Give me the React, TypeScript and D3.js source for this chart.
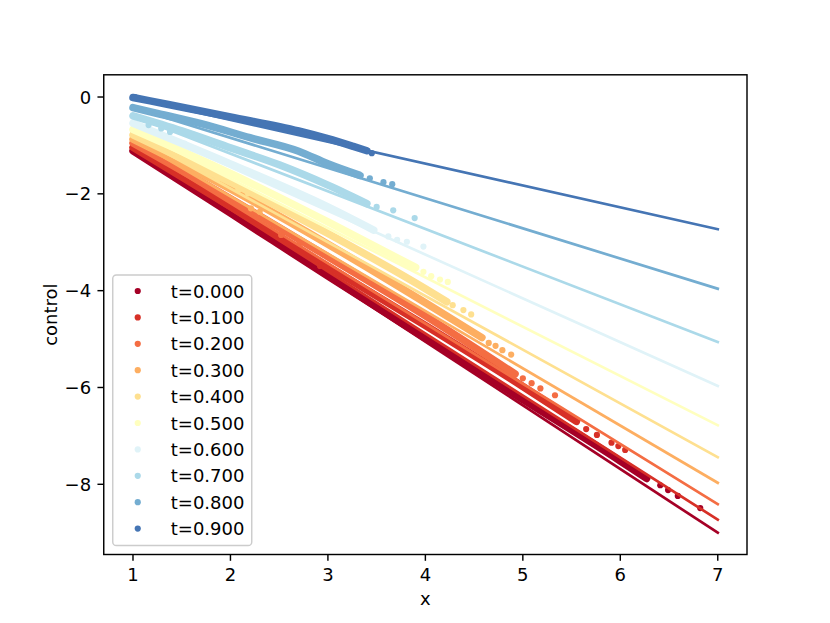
import React from 'react';
import * as d3 from 'd3';

// time slices shown in the legend
const tValues = [0, 0.1, 0.2, 0.3, 0.4, 0.5, 0.6, 0.7, 0.8, 0.9];

// reference lines, drawn from x=1 to x=7
const lineX = [1, 7];
const lineStart = [-1.11, -1.04, -0.95, -0.87, -0.78, -0.67, -0.54, -0.39, -0.22, -0.02];
const lineEnd = [-9.0, -8.73, -8.41, -7.97, -7.44, -6.78, -5.97, -5.06, -3.96, -2.73];

// dense part of each scatter cloud, traced as [x, control]
const band0: [number, number][] = [[1, -1.11], [2, -2.4], [3, -3.7], [4, -4.98], [5, -6.25], [6, -7.52], [6.27, -7.88]];
const band1: [number, number][] = [[1, -1.04], [2, -2.26], [3, -3.5], [4, -4.72], [5, -5.98], [5.55, -6.7]];
const band2: [number, number][] = [[1, -0.95], [2, -2.1], [3, -3.3], [4, -4.52], [4.92, -5.72]];
const band3: [number, number][] = [[1, -0.87], [2, -1.9], [3, -3.04], [4, -4.25], [4.58, -4.97]];
const band4: [number, number][] = [[1, -0.78], [2, -1.76], [3, -2.82], [4, -3.96], [4.22, -4.23]];
const band5: [number, number][] = [[1, -0.67], [2, -1.58], [3, -2.58], [3.9, -3.52]];
const band6: [number, number][] = [[1, -0.54], [2, -1.38], [3, -2.27], [3.47, -2.75]];
const band7: [number, number][] = [[1, -0.39], [1.5, -0.7], [2, -1.05], [2.5, -1.4], [3, -1.82], [3.4, -2.2]];
const band8: [number, number][] = [[1, -0.22], [1.25, -0.34], [1.7, -0.55], [2.2, -0.84], [2.7, -1.12], [3, -1.38], [3.33, -1.62]];
const band9: [number, number][] = [[1, -0.01], [1.35, -0.15], [2, -0.41], [2.7, -0.7], [3, -0.86], [3.26, -1.02], [3.4, -1.11]];

// isolated points outside the dense part
const stray0: [number, number][] = [[6.41, -8.02], [6.49, -8.12], [6.59, -8.24], [6.82, -8.49]];
const stray1: [number, number][] = [[2.92, -3.49], [5.65, -6.86], [5.76, -6.98], [5.91, -7.14], [5.98, -7.21], [6.05, -7.29]];
const stray2: [number, number][] = [[2.52, -2.85], [2.71, -3.02], [5.0, -5.81], [5.09, -5.91], [5.18, -6.02], [5.33, -6.16]];
const stray3: [number, number][] = [[2.21, -2.3], [2.3, -2.37], [4.65, -5.08], [4.72, -5.14], [4.79, -5.23], [4.88, -5.32]];
const stray4: [number, number][] = [[1.87, -1.68], [2.08, -1.92], [2.18, -1.99], [4.28, -4.3], [4.39, -4.4], [4.47, -4.49]];
const stray5: [number, number][] = [[1.26, -0.87], [3.98, -3.61], [4.06, -3.7], [4.15, -3.77], [4.23, -3.82]];
const stray6: [number, number][] = [[1.53, -0.96], [3.62, -2.88], [3.71, -2.95], [3.81, -2.99], [3.98, -3.09]];
const stray7: [number, number][] = [[1.16, -0.58], [1.29, -0.65], [1.38, -0.72], [3.5, -2.27], [3.67, -2.34], [3.89, -2.5]];
const stray8: [number, number][] = [[3.43, -1.68], [3.57, -1.76], [3.66, -1.8]];
const stray9: [number, number][] = [[1.02, 0.0], [3.45, -1.16]];

const bands = [band0, band1, band2, band3, band4, band5, band6, band7, band8, band9];
const strays = [stray0, stray1, stray2, stray3, stray4, stray5, stray6, stray7, stray8, stray9];

const xTicks = [1, 2, 3, 4, 5, 6, 7];
const yTicks = [0, -2, -4, -6, -8];

const colors = d3.schemeRdYlBu[11].slice(0, 10);

const W = 830;
const H = 623;
const left = 103.75, right = 747, top = 74.8, bottom = 554.5;
const FONT = 'DejaVu Sans, sans-serif';

export default function App() {
  const x = d3.scaleLinear().domain([0.7, 7.3]).range([left, right]);
  const y = d3.scaleLinear().domain([-9.45, 0.459]).range([bottom, top]);
  const line = d3.line<[number, number]>().x(d => x(d[0])).y(d => y(d[1]));
  const cloud = d3.line<[number, number]>().x(d => x(d[0])).y(d => y(d[1])).curve(d3.curveMonotoneX);
  const fmt = (v: number) => String(v).replace('-', '\u2212');

  // legend geometry
  const lgLeft = left + 9;
  const lgBottom = bottom - 9;
  const rowH = 26.4;
  const lgTop = lgBottom - 270.5;

  return (
    <svg width={W} height={H} style={{ position: 'absolute', left: 0, top: 0 }} fontFamily={FONT}>
      <rect width={W} height={H} fill="#fff" />
      <defs>
        <clipPath id="plot">
          <rect x={left} y={top} width={right - left} height={bottom - top} />
        </clipPath>
      </defs>

      <g clipPath="url(#plot)">
        {tValues.map((t, i) => (
          <g key={t}>
            <path d={cloud(bands[i]) ?? ''} fill="none" stroke={colors[i]} strokeWidth={7.5}
              strokeLinecap="round" strokeLinejoin="round" />
            {strays[i].map((p, j) => (
              <circle key={j} cx={x(p[0])} cy={y(p[1])} r={3.1} fill={colors[i]} />
            ))}
            <path d={line([[lineX[0], lineStart[i]], [lineX[1], lineEnd[i]]]) ?? ''}
              fill="none" stroke={colors[i]} strokeWidth={2.7} strokeLinecap="square" />
          </g>
        ))}
      </g>

      {/* axes frame */}
      <rect x={left} y={top} width={right - left} height={bottom - top} fill="none" stroke="#000" strokeWidth={1.44} />

      {xTicks.map(v => (
        <g key={v}>
          <line x1={x(v)} x2={x(v)} y1={bottom} y2={bottom + 6.3} stroke="#000" strokeWidth={1.44} />
          <text x={x(v)} y={bottom + 26.5} textAnchor="middle" fontSize={18}>{fmt(v)}</text>
        </g>
      ))}
      {yTicks.map(v => (
        <g key={v}>
          <line x1={left - 6.3} x2={left} y1={y(v)} y2={y(v)} stroke="#000" strokeWidth={1.44} />
          <text x={left - 12.6} y={y(v) + 6.5} textAnchor="end" fontSize={18}>{fmt(v)}</text>
        </g>
      ))}

      <text x={(left + right) / 2} y={605} textAnchor="middle" fontSize={18}>x</text>
      <text transform={`translate(57,${(top + bottom) / 2}) rotate(-90)`} textAnchor="middle" fontSize={18}>control</text>

      {/* legend */}
      <rect x={lgLeft} y={lgTop} width={139} height={lgBottom - lgTop} rx={3.6}
        fill="#fff" fillOpacity={0.8} stroke="#cccccc" strokeWidth={1.44} />
      {tValues.map((t, i) => {
        const cy = lgTop + 16 + i * rowH;
        return (
          <g key={t}>
            <circle cx={lgLeft + 25} cy={cy} r={3.1} fill={colors[i]} />
            <text x={lgLeft + 58} y={cy + 6.5} fontSize={18}>{`t=${t.toFixed(3)}`}</text>
          </g>
        );
      })}
    </svg>
  );
}
